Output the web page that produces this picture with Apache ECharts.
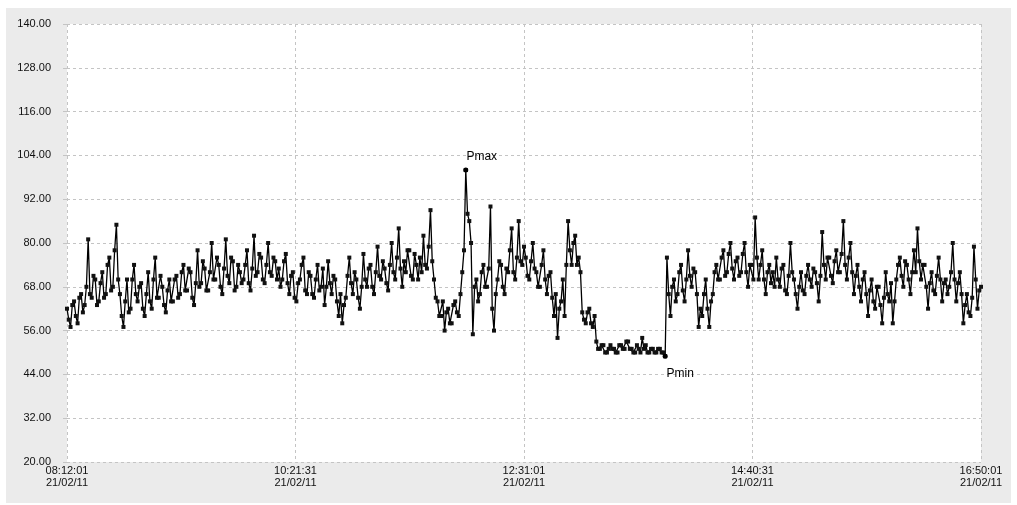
<!DOCTYPE html>
<html>
<head>
<meta charset="utf-8">
<script src="https://cdn.jsdelivr.net/npm/echarts@6/dist/echarts.min.js"></script>
<style>
  html, body { margin: 0; padding: 0; background: #fff; }
  #chart { width: 1017px; height: 505px; }
</style>
</head>
<body>
<div id="chart"></div>
<script>
// start of the record and sample step (seconds)
var startTime = '08:12:01';
var dateLabel = '21/02/11';
var stepSec = 60;
var spanSec = 31080;
var tickSec = 7770;

// pressure readings, one a minute
var pressure = [
    62, 59, 57, 63, 64, 60, 58, 65, 66, 61, 63, 68, 81, 66, 65, 71, 70, 63, 64, 69,
    72, 65, 66, 74, 76, 67, 68, 78, 85, 70, 66, 60, 57, 64, 70, 61, 62, 70, 74, 66,
    64, 68, 69, 62, 60, 66, 72, 64, 62, 70, 76, 65, 65, 71, 68, 63, 61, 67, 70, 64,
    64, 70, 71, 65, 66, 72, 74, 67, 67, 73, 72, 65, 63, 69, 78, 68, 69, 75, 73, 67,
    67, 72, 80, 70, 70, 76, 74, 68, 66, 73, 81, 71, 69, 76, 75, 67, 68, 74, 72, 69,
    70, 74, 78, 69, 67, 73, 82, 71, 72, 77, 76, 70, 69, 74, 80, 72, 71, 76, 75, 70,
    73, 68, 70, 75, 77, 69, 66, 71, 72, 65, 64, 69, 70, 74, 76, 67, 66, 72, 71, 66,
    65, 70, 74, 67, 68, 73, 63, 68, 75, 69, 66, 71, 70, 64, 60, 66, 58, 63, 65, 71,
    76, 69, 66, 72, 70, 65, 62, 68, 77, 70, 68, 73, 74, 68, 66, 72, 79, 71, 70, 75,
    73, 69, 67, 74, 80, 72, 70, 76, 84, 73, 68, 75, 72, 78, 78, 71, 70, 77, 74, 70,
    76, 72, 82, 74, 73, 79, 89, 75, 70, 65, 64, 60, 60, 64, 56, 61, 62, 58, 58, 63,
    64, 61, 60, 66, 72, 78, 100, 88, 86, 80, 55, 68, 70, 64, 66, 72, 74, 68, 68, 73,
    90, 62, 56, 66, 70, 75, 74, 68, 66, 73, 72, 78, 84, 72, 70, 76, 86, 75, 74, 79,
    76, 71, 70, 75, 80, 73, 72, 68, 68, 74, 78, 70, 66, 71, 72, 65, 60, 66, 54, 62,
    64, 70, 60, 74, 86, 78, 74, 80, 82, 74, 76, 72, 61, 59, 58, 61, 62, 58, 57, 60,
    53, 51, 51, 52, 52, 50, 50, 51, 52, 51, 51, 50, 50, 52, 52, 51, 51, 53, 53, 51,
    51, 50, 50, 52, 51, 50, 54, 51, 52, 50, 50, 51, 51, 50, 50, 51, 51, 50, 50, 49,
    76, 66, 60, 68, 70, 64, 66, 72, 74, 67, 64, 70, 78, 71, 68, 73, 72, 66, 57, 62,
    60, 66, 70, 62, 57, 64, 66, 72, 74, 70, 70, 76, 78, 71, 72, 77, 80, 73, 70, 75,
    76, 71, 72, 77, 80, 72, 68, 74, 74, 70, 87, 76, 70, 74, 78, 70, 66, 72, 74, 69,
    72, 68, 76, 70, 68, 73, 74, 67, 66, 71, 80, 72, 70, 66, 62, 68, 72, 67, 66, 71,
    74, 70, 68, 73, 72, 69, 64, 71, 83, 74, 70, 76, 76, 71, 69, 75, 78, 72, 72, 77,
    86, 74, 70, 76, 80, 72, 66, 71, 74, 68, 64, 70, 72, 66, 60, 67, 70, 64, 62, 68,
    68, 63, 58, 65, 72, 66, 64, 69, 58, 64, 70, 74, 76, 71, 68, 75, 74, 70, 66, 72,
    78, 72, 84, 75, 70, 74, 74, 68, 62, 69, 72, 67, 66, 71, 76, 70, 64, 69, 70, 66,
    68, 72, 80, 70, 64, 69, 72, 66, 58, 63, 66, 61, 60, 65, 79, 70, 62, 67, 68
];

function toClock(sec) {
    var p = startTime.split(':');
    var t = (+p[0]) * 3600 + (+p[1]) * 60 + (+p[2]) + Math.round(sec);
    var h = Math.floor(t / 3600) % 24, m = Math.floor(t / 60) % 60, s = t % 60;
    function pad(n) { return n < 10 ? '0' + n : '' + n; }
    return pad(h) + ':' + pad(m) + ':' + pad(s);
}

var seriesData = [];
for (var i = 0; i < pressure.length; i++) {
    seriesData.push([i * stepSec, pressure[i]]);
}

var myChart = echarts.init(document.getElementById('chart'));

var gridLine = { show: true, lineStyle: { color: '#c4c4c4', type: [3, 3], width: 1 } };

var option = {
    animation: false,
    backgroundColor: '#ffffff',
    graphic: [{
        type: 'rect',
        left: 6, top: 8,
        shape: { width: 1005, height: 495 },
        style: { fill: '#ebebeb' },
        z: -10
    }],
    grid: {
        left: 67, right: 36, top: 24, bottom: 43,
        show: true, backgroundColor: '#ffffff', borderWidth: 0
    },
    xAxis: {
        type: 'value',
        min: 0,
        max: spanSec,
        interval: tickSec,
        axisLine: { show: false },
        axisTick: { show: false },
        splitLine: gridLine,
        axisLabel: {
            color: '#111',
            fontSize: 11,
            fontFamily: 'Liberation Sans, Arial, sans-serif',
            lineHeight: 12,
            margin: 3,
            formatter: function (v) { return toClock(v) + '\n' + dateLabel; }
        }
    },
    yAxis: {
        type: 'value',
        min: 20,
        max: 140,
        interval: 12,
        axisLine: { show: false },
        axisTick: { show: true, length: 4, lineStyle: { color: '#c4c4c4' } },
        splitLine: gridLine,
        axisLabel: {
            color: '#111',
            fontSize: 11,
            fontFamily: 'Liberation Sans, Arial, sans-serif',
            margin: 16,
            formatter: function (v) { return v.toFixed(2); }
        }
    },
    series: [{
        type: 'line',
        data: seriesData,
        showSymbol: true,
        showAllSymbol: true,
        symbol: 'emptyRect',
        symbolSize: 2,
        lineStyle: { color: '#000', width: 1.3 },
        itemStyle: { color: '#111', borderWidth: 1 },
        markPoint: {
            symbol: 'circle',
            symbolSize: 5,
            itemStyle: { color: '#000' },
            label: {
                show: true,
                color: '#000',
                fontSize: 12,
                fontFamily: 'Liberation Sans, Arial, sans-serif',
                formatter: function (p) { return p.name; }
            },
            data: [
                { type: 'max', name: 'Pmax', label: { position: 'top', offset: [16, 0] } },
                { type: 'min', name: 'Pmin', label: { position: 'bottom', offset: [15, 4] } }
            ]
        }
    }]
};

myChart.setOption(option);
</script>
</body>
</html>
